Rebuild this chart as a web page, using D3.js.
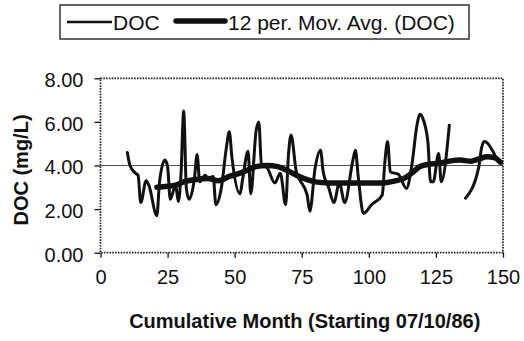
<!DOCTYPE html>
<html>
<head>
<meta charset="utf-8">
<script src="https://cdn.jsdelivr.net/npm/d3@7"></script>
<style>
  html, body { margin: 0; padding: 0; background: #fff; }
  svg { display: block; font-family: "Liberation Sans", Arial, sans-serif; }
</style>
</head>
<body>
<svg id="chart" width="524" height="341"></svg>
<script>
// ---- Data ----
const docMonths = [10, 11, 13, 14, 15, 17, 18, 21, 22, 24, 25, 26, 28, 29, 30, 31, 32, 33, 35, 36, 37, 39, 40, 42, 43, 45, 47, 48, 49, 52, 53, 55, 56, 58, 59, 60, 62, 65, 67, 69, 70, 71, 73, 74, 77, 78, 80, 82, 83, 85, 87, 89, 91, 94, 95, 96, 98, 101, 105, 106, 107, 108, 111, 114, 116, 118, 119, 120, 122, 123, 124, 126, 127, 130,
                   null,
                   136, 141, 142, 143, 144, 146, 148];
const docValues = [4.6, 4.0, 3.65, 3.55, 2.3, 3.3, 3.1, 1.7, 3.25, 4.25, 3.95, 2.45, 3.1, 2.35, 3.6, 6.5, 2.95, 2.45, 3.4, 4.5, 3.25, 3.55, 3.4, 3.5, 2.2, 2.95, 4.9, 5.55, 4.35, 2.7, 3.4, 4.65, 2.7, 5.6, 6.0, 4.0, 3.9, 3.2, 3.65, 2.2, 4.4, 5.4, 3.7, 3.4, 2.65, 1.9, 3.9, 4.7, 3.7, 3.0, 2.3, 3.2, 2.3, 4.2, 4.7, 3.55, 1.8, 2.2, 2.65, 4.2, 5.1, 3.7, 3.6, 2.95, 4.0, 5.9, 6.35, 6.2, 5.1, 3.25, 3.25, 4.55, 3.25, 5.85,
                   null,
                   2.5, 3.95, 4.8, 5.1, 5.05, 4.7, 4.2];

const maMonths = [21, 25, 28, 31, 35, 40, 44, 48, 52, 56, 58, 62, 66, 70, 73, 77, 80, 85, 90, 95, 100, 105, 110, 113, 116, 119, 122, 126, 130, 134, 138, 141, 144, 147, 149];
const maValues = [3.0, 3.05, 3.1, 3.25, 3.35, 3.4, 3.3, 3.5, 3.65, 3.85, 3.95, 4.0, 3.95, 3.75, 3.55, 3.35, 3.25, 3.2, 3.2, 3.2, 3.2, 3.2, 3.3, 3.4, 3.65, 3.95, 4.05, 4.1, 4.2, 4.25, 4.2, 4.3, 4.4, 4.35, 4.15];

const xTicks = [0, 25, 50, 75, 100, 125, 150];
const yTicks = [0, 2, 4, 6, 8];
const refLineValue = 4.0;

const seriesNames = ["DOC", "12 per. Mov. Avg. (DOC)"];
const xTitle = "Cumulative Month (Starting 07/10/86)";
const yTitle = "DOC (mg/L)";

// ---- Layout ----
const svg = d3.select("#chart");
const plot = { left: 100.5, right: 503, top: 78.3, bottom: 252.7 };

const x = d3.scaleLinear().domain([0, 150]).range([plot.left, plot.right]);
const y = d3.scaleLinear().domain([0, 8]).range([plot.bottom, plot.top]);

const ink = "#111";

// reference line at 4.00
svg.append("line")
  .attr("x1", plot.left).attr("x2", plot.right)
  .attr("y1", y(refLineValue)).attr("y2", y(refLineValue))
  .attr("stroke", "#555").attr("stroke-width", 1.2);

// plot frame (dotted, like the scanned original)
svg.append("rect")
  .attr("x", plot.left).attr("y", plot.top)
  .attr("width", plot.right - plot.left).attr("height", plot.bottom - plot.top)
  .attr("fill", "none").attr("stroke", "#222")
  .attr("stroke-width", 1.7).attr("stroke-dasharray", "1.6,1.2");

// axes
const xAxis = d3.axisBottom(x).tickValues(xTicks).tickSize(5).tickPadding(12)
  .tickFormat(d3.format("d"));
const gx = svg.append("g").attr("transform", `translate(0,${plot.bottom})`).call(xAxis);
gx.select(".domain").remove();
gx.selectAll(".tick line").attr("stroke", ink).attr("stroke-width", 1.3);
gx.selectAll(".tick text").attr("font-size", 20).attr("fill", ink)
  .attr("font-family", "'Liberation Sans', Arial, sans-serif");

const yAxis = d3.axisLeft(y).tickValues(yTicks).tickSize(6).tickPadding(11)
  .tickFormat(d3.format(".2f"));
const gy = svg.append("g").attr("transform", `translate(${plot.left},0)`).call(yAxis);
gy.select(".domain").remove();
gy.selectAll(".tick line").attr("stroke", ink).attr("stroke-width", 1.3);
gy.selectAll(".tick text").attr("font-size", 20).attr("fill", ink)
  .attr("dy", "0.42em")
  .attr("font-family", "'Liberation Sans', Arial, sans-serif");

// data lines
const docData = docMonths.map((m, i) => ({ m, v: docValues[i] }));
const maData = maMonths.map((m, i) => ({ m, v: maValues[i] }));

const docLine = d3.line()
  .defined(d => d.m !== null && d.v !== null)
  .x(d => x(d.m)).y(d => y(d.v))
  .curve(d3.curveMonotoneX);

const maLine = d3.line()
  .x(d => x(d.m)).y(d => y(d.v))
  .curve(d3.curveMonotoneX);

svg.append("path").datum(docData)
  .attr("d", docLine)
  .attr("fill", "none").attr("stroke", ink)
  .attr("stroke-width", 3).attr("stroke-linejoin", "round").attr("stroke-linecap", "round");

svg.append("path").datum(maData)
  .attr("d", maLine)
  .attr("fill", "none").attr("stroke", ink)
  .attr("stroke-width", 5.5).attr("stroke-linejoin", "round").attr("stroke-linecap", "round");

// axis titles
svg.append("text")
  .attr("x", (plot.left + plot.right) / 2 + 3).attr("y", 328)
  .attr("text-anchor", "middle").attr("font-size", 20).attr("font-weight", "bold")
  .attr("fill", ink).text(xTitle);

svg.append("text")
  .attr("transform", `translate(28,170) rotate(-90)`)
  .attr("text-anchor", "middle").attr("font-size", 20).attr("font-weight", "bold")
  .attr("fill", ink).text(yTitle);

// legend
const lg = svg.append("g");
lg.append("rect")
  .attr("x", 60).attr("y", 5).attr("width", 409).attr("height", 34)
  .attr("fill", "#fff").attr("stroke", "#333").attr("stroke-width", 1.5);
lg.append("line").attr("x1", 67).attr("x2", 112).attr("y1", 22).attr("y2", 22)
  .attr("stroke", ink).attr("stroke-width", 2.4);
lg.append("text").attr("x", 113).attr("y", 30).attr("font-size", 21).attr("fill", ink)
  .text(seriesNames[0]);
lg.append("line").attr("x1", 176).attr("x2", 225).attr("y1", 21).attr("y2", 21)
  .attr("stroke", ink).attr("stroke-width", 5.5).attr("stroke-linecap", "round");
lg.append("text").attr("x", 228).attr("y", 30).attr("font-size", 21).attr("fill", ink)
  .text(seriesNames[1]);
</script>
</body>
</html>
